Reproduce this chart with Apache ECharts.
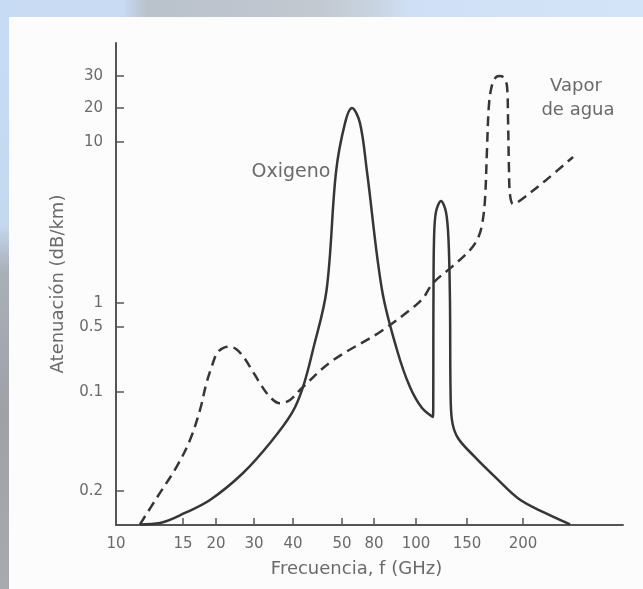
<!DOCTYPE html>
<html>
<head>
<meta charset="utf-8">
<script src="https://cdn.jsdelivr.net/npm/echarts@6/dist/echarts.min.js"></script>
<style>
  html, body { margin: 0; padding: 0; }
  body { width: 643px; height: 589px; position: relative; overflow: hidden; background: #cddff4; }
  #topband { position: absolute; left: 0; top: 0; width: 643px; height: 17px;
    background: linear-gradient(to right, #c9dbf3 0%, #c9dbf3 19%, #b9c1cb 23%, #c3c9d1 50%, #c8d3e0 58%, #cfe0f6 64%, #d4e4f8 100%); }
  #sideband { position: absolute; left: 0; top: 0; width: 9px; height: 589px;
    background: linear-gradient(to bottom, #c8dbf4 0%, #c6d8f0 38%, #aab0b8 46%, #9ea2a7 70%, #a7abb0 100%); }
  #paper { position: absolute; left: 9px; top: 17px; right: 0; bottom: 0; background: #fcfcfc; }
  #chart { position: absolute; left: 0; top: 0; width: 643px; height: 589px; }
</style>
</head>
<body>
<div id="topband"></div>
<div id="sideband"></div>
<div id="paper"></div>
<div id="chart"></div>
<script>
// Oxygen absorption: frequency (GHz) and attenuation (dB/km)
const oxygenFreq = [11.56, 13.05, 15.26, 18.98, 26.7, 33.76, 39.7, 41.86, 43.8, 46.6,
  48.65, 52.25, 57.9, 65.1, 72.2, 83.5, 90.4, 96.85, 104.9, 114.5,
  114.9, 115.4, 117.2, 122.0, 126.9, 129.5, 131.0, 131.6, 133.1, 139.6,
  156.3, 173.2, 195.9, 223.9, 254.6];
const oxygenAtt = [0.0046, 0.00475, 0.006, 0.0081, 0.0152, 0.0305, 0.0614, 0.113, 0.283, 1.2,
  6.51, 14.7, 20, 14.7, 6.51, 1.2, 0.283, 0.113, 0.0689, 0.0559,
  1.04, 2.46, 3.68, 4.30, 3.68, 2.46, 1.04, 0.105, 0.052, 0.0343,
  0.022, 0.0139, 0.0083, 0.006, 0.0046];

// Water vapour absorption: frequency (GHz) and attenuation (dB/km)
const vaporFreq = [11.56, 12.89, 14.44, 15.94, 17.40, 18.33, 19.26, 20.43, 22.8, 24.76,
  26.76, 29.37, 31.36, 33.76, 36.34, 39.13, 41.62, 47.77, 82.6, 96.85,
  105.7, 114.5, 134.2, 152.3, 158.7, 162.0, 164.5, 166.2, 167.9, 170.6,
  174.1, 177.7, 181.4, 184.2, 185.2, 186.1, 187.1, 190.0, 194.9, 223.9, 258.6];
const vaporAtt = [0.0046, 0.0089, 0.0176, 0.0327, 0.0658, 0.119, 0.187, 0.269, 0.307, 0.290,
  0.240, 0.172, 0.124, 0.089, 0.0769, 0.083, 0.110, 0.2155, 0.442, 0.817,
  1.07, 1.33, 1.70, 2.13, 2.53, 3.05, 4.36, 8.92, 20.8, 26.8,
  29.6, 30.0, 29.3, 26.4, 15.7, 6.70, 4.69, 4.12, 4.24, 5.73, 8.07];

// Printed ticks on both axes
const freqTicks = [10, 15, 20, 30, 40, 50, 80, 100, 150, 200];
const freqTickLabels = ['10', '15', '20', '30', '40', '50', '80', '100', '150', '200'];
const attTicks = [0.01, 0.1, 0.5, 1, 10, 20, 30];
const attTickLabels = ['0.2', '0.1', '0.5', '1', '10', '20', '30'];

// Both scales are hand-spaced: every printed tick has its own place along the
// axis (percent of the axis length), with a logarithmic scale between ticks.
const freqTickPlace = [0, 13.21, 19.72, 27.22, 34.91, 44.58, 50.89, 59.17, 69.23, 80.28];
const attTickPlace = [7.05, 27.59, 41.08, 46.06, 79.46, 86.51, 93.15];

function makeScale(values, places) {
  return function (v) {
    let i = 0;
    while (i < values.length - 2 && v > values[i + 1]) i++;
    const l0 = Math.log(values[i]);
    const l1 = Math.log(values[i + 1]);
    const t = (Math.log(v) - l0) / (l1 - l0);
    return places[i] + t * (places[i + 1] - places[i]);
  };
}
const freqScale = makeScale(freqTicks, freqTickPlace);
const attScale = makeScale(attTicks, attTickPlace);

function tickText(places, labels) {
  return function (v) {
    for (let i = 0; i < places.length; i++) {
      if (Math.abs(places[i] - v) < 1e-6) return labels[i];
    }
    return '';
  };
}

function toPoints(fs, as) {
  return fs.map((f, i) => [freqScale(f), attScale(as[i])]);
}

const FONT = '"DejaVu Sans", "Liberation Sans", sans-serif';
const TEXT = '#6a6a6a';
const INK = '#363636';
const AXIS = '#555555';

const chart = echarts.init(document.getElementById('chart'), null, { renderer: 'canvas' });
chart.setOption({
  animation: false,
  backgroundColor: 'transparent',
  grid: { left: 116, right: 20, top: 43, bottom: 64 },
  xAxis: {
    type: 'value', min: 0, max: 100,
    name: 'Frecuencia, f (GHz)',
    nameLocation: 'middle', nameGap: 35,
    nameTextStyle: { color: TEXT, fontFamily: FONT, fontSize: 18, padding: [0, 26, 0, 0] },
    axisLine: { lineStyle: { color: AXIS, width: 2 } },
    axisTick: { inside: true, length: 7, customValues: freqTickPlace, lineStyle: { color: AXIS, width: 1.5 } },
    axisLabel: { customValues: freqTickPlace, formatter: tickText(freqTickPlace, freqTickLabels),
      color: TEXT, fontFamily: FONT, fontSize: 15, margin: 12 },
    splitLine: { show: false }
  },
  yAxis: {
    type: 'value', min: 0, max: 100,
    name: 'Atenuación (dB/km)',
    nameLocation: 'middle', nameGap: 49, nameRotate: 90,
    nameTextStyle: { color: TEXT, fontFamily: FONT, fontSize: 18 },
    axisLine: { show: true, lineStyle: { color: AXIS, width: 2 } },
    axisTick: { show: true, inside: true, length: 8, customValues: attTickPlace, lineStyle: { color: AXIS, width: 1.5 } },
    axisLabel: { customValues: attTickPlace, formatter: tickText(attTickPlace, attTickLabels),
      color: TEXT, fontFamily: FONT, fontSize: 15, margin: 13 },
    splitLine: { show: false }
  },
  series: [
    {
      name: 'Vapor de agua', type: 'line',
      data: toPoints(vaporFreq, vaporAtt),
      showSymbol: false, smooth: 0.35,
      lineStyle: { color: INK, width: 2.5, type: [10, 6] }
    },
    {
      name: 'Oxigeno', type: 'line',
      data: toPoints(oxygenFreq, oxygenAtt),
      showSymbol: false, smooth: 0.35,
      lineStyle: { color: INK, width: 2.5 }
    }
  ],
  graphic: [
    { type: 'text', x: 291, y: 172, style: { text: 'Oxigeno', font: '19px ' + FONT, fill: TEXT, align: 'center', verticalAlign: 'middle' } },
    { type: 'text', x: 576, y: 86, style: { text: 'Vapor', font: '18px ' + FONT, fill: TEXT, align: 'center', verticalAlign: 'middle' } },
    { type: 'text', x: 578, y: 110, style: { text: 'de agua', font: '18px ' + FONT, fill: TEXT, align: 'center', verticalAlign: 'middle' } }
  ]
});
</script>
</body>
</html>
